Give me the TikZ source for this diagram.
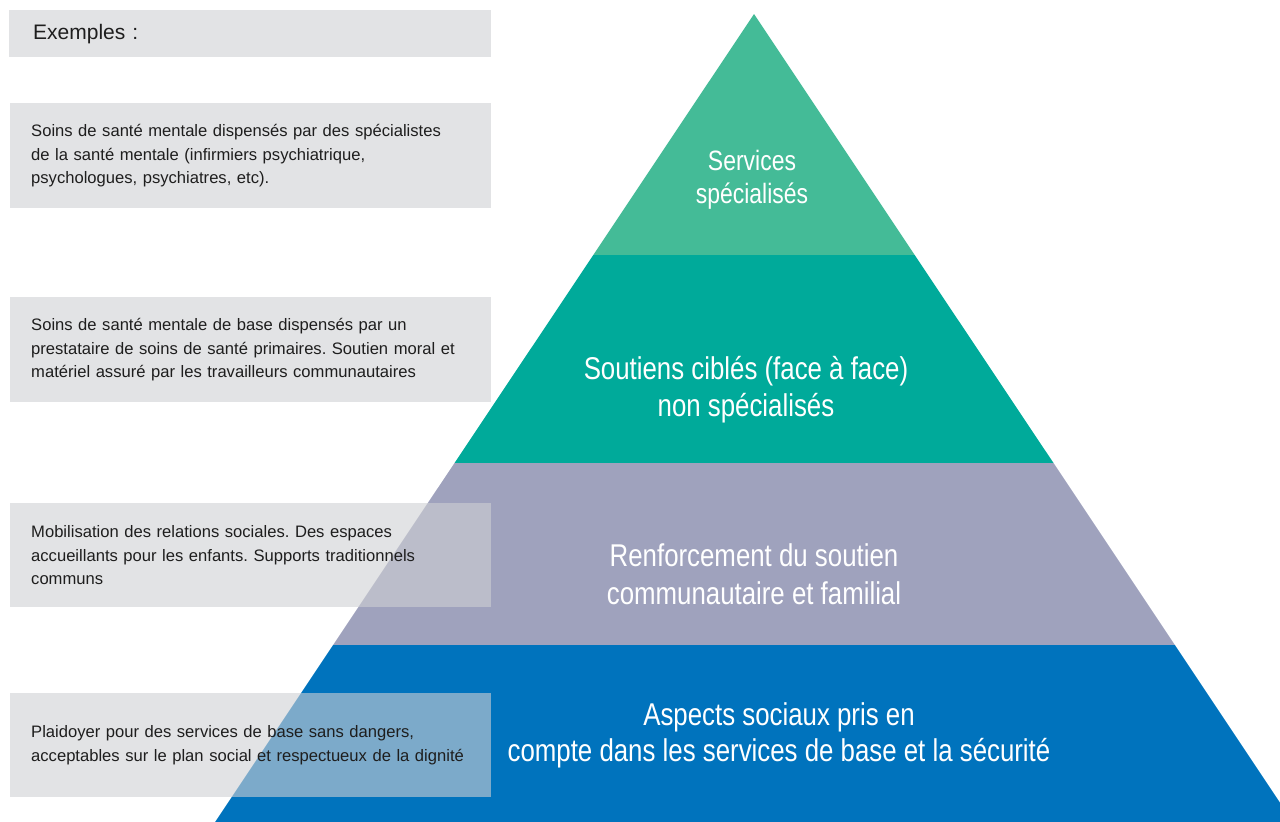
\documentclass[tikz,border=0pt]{standalone}
\usepackage{fontspec}
\setmainfont{Liberation Sans}
\newfontfamily\narrowfont[FakeStretch=0.82]{Liberation Sans}
\definecolor{tierspec}{HTML}{44BB97}
\definecolor{tiertarget}{HTML}{00AA9A}
\definecolor{tiercommunity}{HTML}{9FA2BD}
\definecolor{tierbasic}{HTML}{0073BD}
\definecolor{exgray}{HTML}{CFD0D3}
\definecolor{extext}{HTML}{1E1E1E}
\frenchspacing
\tikzset{
  tierlabel/.style={text=white, align=center, inner sep=0pt},
  examplebox/.style={fill=exgray, fill opacity=0.6, text opacity=1, text=extext,
    anchor=north west, minimum width=481pt, text width=439pt, inner xsep=21pt,
    align=left, font=\fontsize{16.6}{23.5}\selectfont}
}

\begin{document}
\begin{tikzpicture}[x=1pt, y=-1pt]
	\useasboundingbox (0,0) rectangle (1280,822);
	\clip (0,0) rectangle (1280,822);
	% pyramid, from the top down
	\fill[tierspec] (754,14) -- (914.7,255) -- (593.3,255) -- cycle;
	\fill[tiertarget] (593.3,255) -- (914.7,255) -- (1053.5,463) -- (454.5,463) -- cycle;
	\fill[tiercommunity] (454.5,463) -- (1053.5,463) -- (1174.9,645) -- (333.1,645) -- cycle;
	\fill[tierbasic] (333.1,645) -- (1174.9,645) -- (1292.9,822) -- (215.1,822) -- cycle;
	%
	\node[tierlabel, font=\narrowfont\fontsize{28}{33}\selectfont] (specialises) at (752,180) {Services\\spécialisés};
	\node[tierlabel, font=\narrowfont\fontsize{31.5}{37}\selectfont] (cibles) at (746,390) {Soutiens ciblés (face à face)\\non spécialisés};
	\node[tierlabel, font=\narrowfont\fontsize{31.5}{38}\selectfont] (renforcement) at (754,574) {Renforcement du soutien\\communautaire et familial};
	\node[tierlabel, font=\narrowfont\fontsize{31.5}{36}\selectfont] (aspects) at (779,735) {Aspects sociaux pris en\\compte dans les services de base et la sécurité};
	%
	% examples column
	\node[examplebox, minimum width=482pt, minimum height=47pt, inner xsep=24pt, text width=434pt, font=\fontsize{21}{25}\selectfont] (exemples) at (9,10) {Exemples :};
	\node[examplebox, minimum height=105pt] (exspec) at (10,103) {Soins de santé mentale dispensés par des spécialistes\\de la santé mentale (infirmiers psychiatrique,\\psychologues, psychiatres, etc).};
	\node[examplebox, minimum height=105pt] (extarget) at (10,297) {Soins de santé mentale de base dispensés par un\\prestataire de soins de santé primaires. Soutien moral et\\matériel assuré par les travailleurs communautaires};
	\node[examplebox, minimum height=104pt] (excommunity) at (10,503) {Mobilisation des relations sociales. Des espaces\\accueillants pour les enfants. Supports traditionnels\\communs};
	\node[examplebox, minimum height=104pt] (exbasic) at (10,693) {Plaidoyer pour des services de base sans dangers,\\acceptables sur le plan social et respectueux de la dignité};
\end{tikzpicture}
\end{document}
